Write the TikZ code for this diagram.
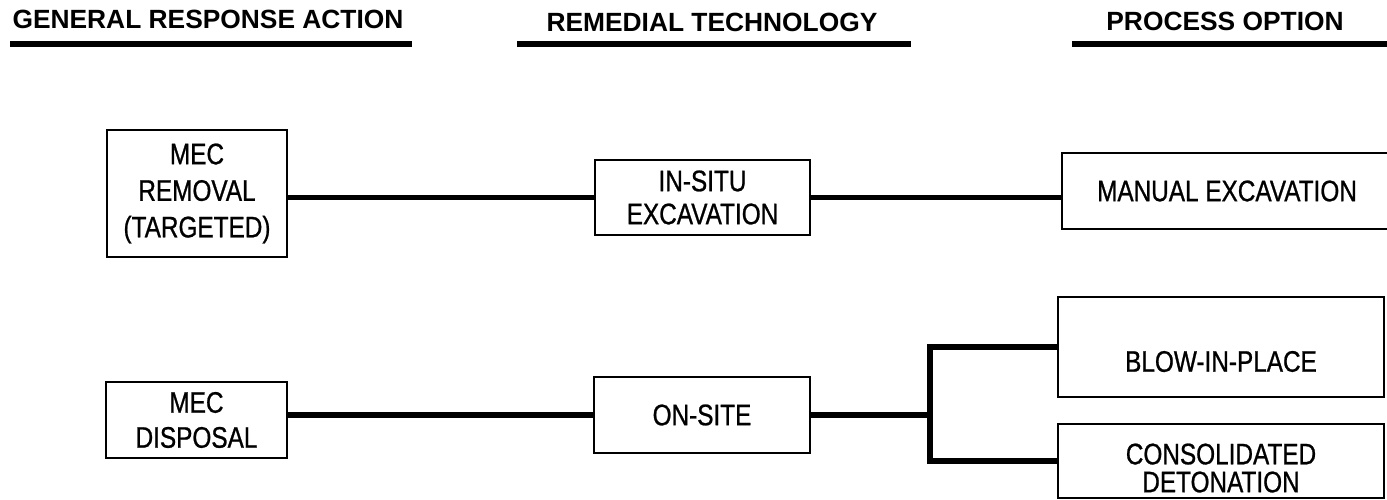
\documentclass[tikz,border=0pt]{standalone}
\usepackage{fontspec}
\setmainfont{Liberation Sans}
\newfontfamily\narrowfont[FakeStretch=0.82, FakeBold=0.8]{Liberation Sans}

\tikzset{
  heading/.style={font=\fontsize{15}{18}\selectfont\bfseries, inner sep=0pt},
  option/.style={draw, line width=1.4pt, align=center, inner sep=0pt,
    font=\narrowfont\fontsize{16.9}{20.8}\selectfont},
  link/.style={line width=3.1pt},
}

\begin{document}
\begin{tikzpicture}[x=0.02cm, y=-0.02cm]
  \useasboundingbox (0,0) rectangle (1387,500);

  % column headings
  \node[heading] (gra) at (208,19) {GENERAL RESPONSE ACTION};
  \node[heading] (rt) at (712,22) {REMEDIAL TECHNOLOGY};
  \node[heading] (po) at (1225,21) {PROCESS OPTION};
  \draw[link] (10,44) -- (412,44);
  \draw[link] (517,44) -- (911,44);
  \draw[link] (1072,44) -- (1390,44);

  % removal row
  \node[option, minimum width=3.6cm, minimum height=2.54cm] (rem) at (197,193.5) {MEC\\REMOVAL\\(TARGETED)};
  \node[option, minimum width=4.3cm, minimum height=1.5cm,
    font=\narrowfont\fontsize{16.9}{18.8}\selectfont] (insitu) at (702.5,197.5) {IN-SITU\\EXCAVATION};
  \node[option, minimum width=6.6cm, minimum height=1.52cm] (manual) at (1227,191) {MANUAL EXCAVATION};

  \draw[link] (insitu.west) -- (insitu.west -| rem.east);
  \draw[link] (insitu.east) -- (insitu.east -| manual.west);

  % disposal row
  \node[option, minimum width=3.62cm, minimum height=1.52cm,
    font=\narrowfont\fontsize{16.9}{19.9}\selectfont] (disp) at (196.5,420) {MEC\\DISPOSAL};
  \node[option, minimum width=4.32cm, minimum height=1.52cm] (onsite) at (702,415) {ON-SITE};
  \node[option, minimum width=6.52cm, minimum height=2cm,
    text height=1.09cm, text depth=0.1cm] (blow) at (1221,347) {BLOW-IN-PLACE};
  \node[option, minimum width=6.52cm, minimum height=1.48cm,
    text height=1.25cm, text depth=0cm,
    font=\narrowfont\fontsize{16.9}{15.9}\selectfont] (consol) at (1221,461) {CONSOLIDATED\\DETONATION};
  \coordinate (fork) at (930,415);

  \draw[link] (onsite.west) -- (onsite.west -| disp.east);
  \draw[link] (onsite.east) -- (fork);
  \draw[link] (blow.west) -| (fork) |- (consol.west);
\end{tikzpicture}
\end{document}
